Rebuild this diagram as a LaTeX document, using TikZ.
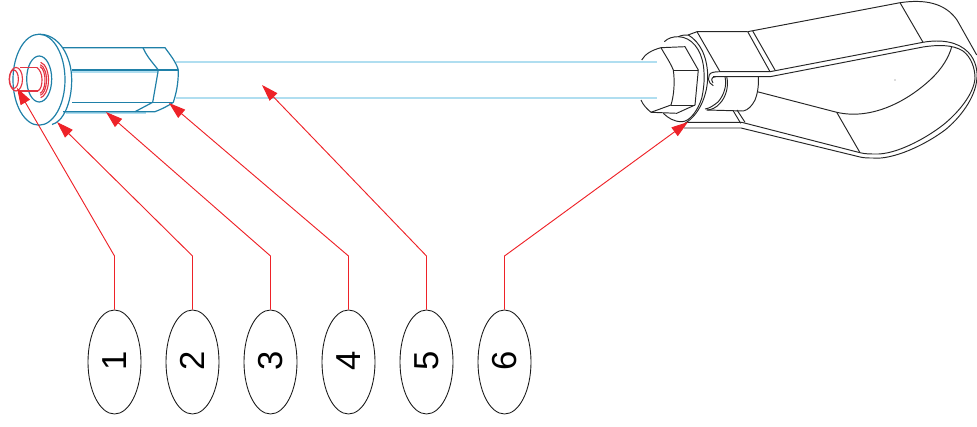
\documentclass[tikz,border=0pt]{standalone}
\usepackage{fontspec}
\setmainfont{Liberation Sans}
\usetikzlibrary{arrows.meta,shapes.geometric}
\definecolor{boltblue}{RGB}{31,128,168}
\definecolor{rodblue}{RGB}{176,222,240}
\definecolor{pinred}{RGB}{226,52,66}
\definecolor{leadred}{RGB}{238,34,40}
\tikzset{
  numoval/.style={draw=black!90,ellipse,line width=0.65pt,inner sep=0pt,minimum width=39.75pt,minimum height=78pt,font=\fontsize{26}{26}\selectfont},
  leader/.style={draw=leadred,line width=0.7pt,-{Triangle[length=12.5pt,width=8pt]}},
  bolt/.style={draw=boltblue,line width=0.9pt},
  rod/.style={draw=rodblue,line width=1pt},
  pin/.style={draw=pinred,line width=0.85pt},
  clamp/.style={draw=black!85,line width=0.72pt}
}
\begin{document}
\begin{tikzpicture}[x=0.75pt,y=0.75pt,yscale=-1,xscale=1]
\useasboundingbox (0,0) rectangle (977,427);

%Rod
\draw [rod]    (176,62) -- (657,62) ;
\draw [rod]    (176,98) -- (657,98) ;
\draw [rod]    (72,72) -- (158,72) ;
\draw [rod]    (66,113) -- (146,113) ;

%Flange and inner seat
\draw [bolt]  (39,79.7) ellipse (26 and 45.5) ;
\draw [bolt]  (40,34.3) .. controls (58,34.3) and (71.7,55) .. (71.7,80) .. controls (71.7,103) and (63,122) .. (52,124.5) ;
\draw [bolt]  (39.2,79) ellipse (12.5 and 23) ;

%Hexagon body
\draw [bolt]    (63,47.7) -- (165,47.7) .. controls (171,56) and (176,62) .. (178.3,70) .. controls (178.5,84) and (176,94) .. (173.3,102.3) .. controls (168,106) and (162,109) .. (155,111.7) -- (63,111.7) ;
\draw [bolt]    (72,70) -- (178.3,70) ;
\draw [bolt]    (72,102.3) -- (173.3,102.3) ;
\draw [bolt]    (143,47.7) .. controls (147,57) and (153,63) .. (158.3,70) -- (152.7,102.3) -- (135,111.7) ;

%Pin
\draw [pin]    (20,67.5) -- (37,67.5) ;
\draw [pin]    (20,91) -- (38,91) ;
\draw [pin]  (16,79.2) ellipse (6.5 and 11.8) ;
\draw [pin]  (13.8,79.2) ellipse (4.6 and 9.2) ;
\draw [pin]  (37,67.5) .. controls (40,70) and (42,74) .. (42,79.5) .. controls (42,85) and (41,89) .. (38,91) ;
\draw [pin]  (39,80) ++(-80:6 and 13.5) arc (-80:80:6 and 13.5) ;
\draw [pin]  (39,80) ++(-80:7.5 and 15.5) arc (-80:80:7.5 and 15.5) ;
\draw [pin]  (39,80) ++(-80:9.5 and 18) arc (-80:80:9.5 and 18) ;

%Nut
\draw [clamp]    (661,47.7) .. controls (652,50) and (645,54) .. (641.7,60) ;
\draw [clamp]    (641,100) .. controls (643,105) and (647,109) .. (651,112.3) ;
\draw [clamp]    (661,47.7) -- (685,46.7) -- (698.3,70) -- (695,105) -- (676.7,113.3) -- (651,112.3) ;
\draw [clamp]    (661,47.7) .. controls (665,55) and (670,62) .. (673.3,70) .. controls (675,82) and (674,95) .. (671,105) -- (651,112.3) ;
\draw [clamp]    (673.3,70) -- (698.3,70) ;
\draw [clamp]    (671,105) -- (695,105) ;

%Washers
\draw [clamp]    (664.3,41.7) .. controls (668,38) and (673,36.7) .. (678.3,36.7) .. controls (692,37) and (701,50) .. (703.3,65) .. controls (705,77) and (704,88) .. (701.7,98.3) .. controls (698,110) and (690,121.7) .. (681.7,121.7) .. controls (674,121.7) and (668,118) .. (663.3,113.3) ;
\draw [clamp]    (688.3,35) .. controls (700,42) and (707,56) .. (707.7,75) .. controls (708,95) and (699,115) .. (685,123.3) ;
\draw [clamp]    (678.3,36.7) .. controls (682,35) and (685,35) .. (688.3,35) ;

%Spacer
\draw [clamp]    (758.3,76.7) .. controls (759,87) and (757,95) .. (755,100) .. controls (752,106) and (748,110) .. (743.3,111) -- (706.7,110) ;
\draw [clamp]    (726.7,76.7) .. controls (729,86) and (726,97) .. (720,103.3) .. controls (716,108) and (711,110) .. (706.7,110) ;
\draw [clamp]    (725,76.7) .. controls (727,86) and (724,95) .. (718,102) .. controls (713,106) and (709,108.5) .. (705,109) ;
\draw [clamp]    (720,71.7) .. controls (714,71.7) and (710,72.5) .. (709.3,75) .. controls (708,78) and (708,81) .. (710,83) -- (713.3,85.7) ;
\draw [clamp]    (715.7,76.7) .. controls (712,77) and (711.5,79) .. (711.7,80) -- (713,83) ;

%Clamp upper jaw
\draw [clamp]    (688,35) -- (697,31.7) -- (747.7,31.7) ;
\draw [clamp]    (697,31.7) -- (720,71.7) ;
\draw [clamp]    (747.7,31.7) -- (770,71.7) ;
\draw [clamp]    (752.7,31) -- (775,70) ;

%Strap
\draw [clamp]    (747.7,31.7) -- (900,2.7) .. controls (925,-1) and (945,3) .. (957,20) -- (976.7,55) ;
\draw [clamp]    (900,2.7) -- (923,42.3) ;
\draw [clamp]    (720,71.7) -- (770,71.7) -- (923,42.3) .. controls (942,39) and (958,42) .. (968,52) .. controls (976,60) and (978,72) .. (976.7,80) .. controls (975,98) and (960,118) .. (945,130) .. controls (925,145) and (893,160) .. (873,158) .. controls (868,158) and (864,158) .. (860,157) -- (741,128) -- (684,128) ;
\draw [clamp]    (713,76.7) -- (770,76.7) -- (923,47) .. controls (936,45) and (952,44) .. (963,51) .. controls (971,57) and (975,68) .. (975,78) .. controls (974,94) and (958,113) .. (943,125) .. controls (925,139) and (895,155) .. (875,154) .. controls (870,154) and (865,154) .. (860,152.7) -- (741.7,122.3) -- (686,122.3) ;
\draw [clamp]    (757.3,91.7) -- (836.7,112.3) .. controls (870,120) and (905,103) .. (930,80) .. controls (942,69) and (949,57) .. (951.7,46.7) ;
\draw [clamp]    (836.7,112.3) -- (860,152.7) ;
\draw [clamp]    (733.3,111) -- (740.7,123.3) ;
\draw [clamp]    (737,110) -- (745,122.3) ;
\fill [black!60] (895,80) circle (0.7) ;

% Text Node
\node [numoval] (num1) at (114.5,362) {\rotatebox[origin=c]{90}{1}};
\node [numoval] (num2) at (192.5,362) {\rotatebox[origin=c]{90}{2}};
\node [numoval] (num3) at (270.5,362) {\rotatebox[origin=c]{90}{3}};
\node [numoval] (num4) at (348.5,362) {\rotatebox[origin=c]{90}{4}};
\node [numoval] (num5) at (426.5,362) {\rotatebox[origin=c]{90}{5}};
\node [numoval] (num6) at (504.5,362) {\rotatebox[origin=c]{90}{6}};

%Leader ends
\coordinate (bend1) at (114.5,256);
\coordinate (bend2) at (192.5,256);
\coordinate (bend3) at (270.5,256);
\coordinate (bend4) at (348.5,256);
\coordinate (bend5) at (426.5,256);
\coordinate (bend6) at (504.5,256);
\coordinate (tip1) at (17,88);
\coordinate (tip2) at (57,122);
\coordinate (tip3) at (106,112);
\coordinate (tip4) at (169,103);
\coordinate (tip5) at (262,85);
\coordinate (tip6) at (688,122);

\draw [leader] (num1.north) -- (bend1) -- (tip1);
\draw [leader] (num2.north) -- (bend2) -- (tip2);
\draw [leader] (num3.north) -- (bend3) -- (tip3);
\draw [leader] (num4.north) -- (bend4) -- (tip4);
\draw [leader] (num5.north) -- (bend5) -- (tip5);
\draw [leader] (num6.north) -- (bend6) -- (tip6);
\end{tikzpicture}
\end{document}
